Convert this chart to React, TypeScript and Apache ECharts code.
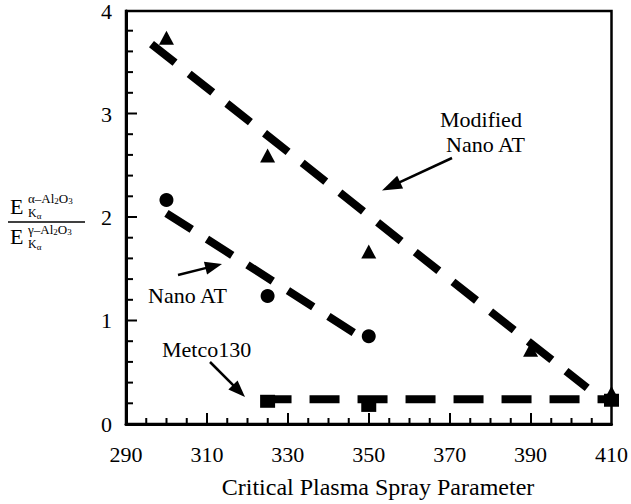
import React, { useEffect, useRef } from "react";
import * as echarts from "echarts";

// ---- data ----
const xLabelValues = [290, 310, 330, 350, 370, 390, 410];
const xMajorTicks = [310, 330, 350, 370, 390];
const xMinorTicks = [295, 300, 305, 315, 320, 325, 335, 340, 345, 355, 360, 365, 375, 380, 385, 395, 400, 405];
const yMajorTicks = [1, 2, 3];
const yMinorTicks = [0.2, 0.4, 0.6, 0.8, 1.2, 1.4, 1.6, 1.8, 2.2, 2.4, 2.6, 2.8, 3.2, 3.4, 3.6, 3.8];

const modifiedNanoAT: [number, number][] = [
  [300, 3.74],
  [325, 2.6],
  [350, 1.67],
  [390, 0.72],
  [410, 0.3],
];
const nanoAT: [number, number][] = [
  [300, 2.17],
  [325, 1.24],
  [350, 0.85],
];
const metco130: [number, number][] = [
  [325, 0.22],
  [350, 0.18],
  [410, 0.23],
];
const modifiedFit: [number, number][] = [
  [296.3, 3.68],
  [404, 0.35],
];
const nanoFit: [number, number][] = [
  [300, 2.04],
  [346.5, 0.88],
];
const metcoFit: [number, number][] = [
  [323.5, 0.24],
  [410, 0.24],
];

const X_MIN = 290;
const X_MAX = 410;
const Y_MIN = 0;
const Y_MAX = 4;

const GRID_LEFT = 126;
const GRID_TOP = 10;
const GRID_W = 486;
const GRID_H = 414;

const FONT = "Liberation Serif";

function measure(text: string, size: number): number {
  const c = document.createElement("canvas").getContext("2d");
  if (!c) return text.length * size * 0.5;
  c.font = `${size}px "Liberation Serif"`;
  return c.measureText(text).width;
}

function runText(x: number, baseline: number, pieces: [string, number, number][]) {
  const els: any[] = [];
  let cx = x;
  for (const [t, fs, dy] of pieces) {
    els.push({
      type: "text",
      x: cx,
      y: baseline + dy - 0.305 * fs,
      style: {
        text: t,
        fontSize: fs,
        fontFamily: FONT,
        fill: "#000",
        textAlign: "left",
        textVerticalAlign: "middle",
      },
    });
    cx += measure(t, fs);
  }
  return els;
}

function arrow(tail: number[], tip: number[], headLen: number, headHalf: number, lw: number) {
  const dx = tip[0] - tail[0];
  const dy = tip[1] - tail[1];
  const L = Math.hypot(dx, dy);
  const ux = dx / L;
  const uy = dy / L;
  const bx = tip[0] - ux * headLen;
  const by = tip[1] - uy * headLen;
  const nx = -uy * headHalf;
  const ny = ux * headHalf;
  return [
    {
      type: "line",
      shape: { x1: tail[0], y1: tail[1], x2: bx + ux * 2, y2: by + uy * 2 },
      style: { stroke: "#000", lineWidth: lw },
    },
    {
      type: "polygon",
      shape: {
        points: [
          [tip[0], tip[1]],
          [bx + nx, by + ny],
          [bx - nx, by - ny],
        ],
      },
      style: { fill: "#000" },
    },
  ];
}

function label(text: string, x: number, y: number, size: number, align = "left") {
  return {
    type: "text",
    x,
    y,
    style: {
      text,
      fontSize: size,
      fontFamily: FONT,
      fill: "#000",
      textAlign: align,
      textVerticalAlign: "middle",
    },
  };
}

// same linear mapping as the value axes (min..max over the grid box)
const xPix = (v: number) => GRID_LEFT + ((v - X_MIN) / (X_MAX - X_MIN)) * GRID_W;
const yPix = (v: number) => GRID_TOP + GRID_H - ((v - Y_MIN) / (Y_MAX - Y_MIN)) * GRID_H;

function tickLine(x1: number, y1: number, x2: number, y2: number) {
  return {
    type: "line",
    shape: { x1, y1, x2, y2 },
    style: { stroke: "#000", lineWidth: 2 },
  };
}

export default function App() {
  const ref = useRef<HTMLDivElement>(null);

  useEffect(() => {
    document.body.style.margin = "0";
    if (!ref.current) return;
    const chart = echarts.init(ref.current, null, { renderer: "svg" });

    const dash = (data: [number, number][]) => ({
      type: "line",
      data,
      showSymbol: false,
      symbol: "none",
      silent: true,
      clip: false,
      lineStyle: { color: "#000", width: 8, type: [30, 18], cap: "butt" },
      z: 2,
    });

    const yLabel: any[] = [
      ...runText(10, 213, [["E", 22, 0]]),
      ...runText(28, 202, [
        ["α–Al", 13, 0],
        ["2", 9, 2],
        ["O", 13, 0],
        ["3", 9, 2],
      ]),
      ...runText(28, 217, [
        ["K", 12, 0],
        ["α", 9, 2],
      ]),
      {
        type: "line",
        shape: { x1: 8, y1: 222, x2: 85, y2: 222 },
        style: { stroke: "#000", lineWidth: 1.5 },
      },
      ...runText(10, 243, [["E", 22, 0]]),
      ...runText(28, 233, [
        ["γ–Al", 13, 0],
        ["2", 9, 2],
        ["O", 13, 0],
        ["3", 9, 2],
      ]),
      ...runText(28, 248, [
        ["K", 12, 0],
        ["α", 9, 2],
      ]),
    ];

    const ticks: any[] = [
      ...xMajorTicks.map((v) => tickLine(xPix(v), yPix(Y_MIN), xPix(v), yPix(Y_MIN) - 11)),
      ...xMinorTicks.map((v) => tickLine(xPix(v), yPix(Y_MIN), xPix(v), yPix(Y_MIN) - 6)),
      ...yMajorTicks.map((v) => tickLine(xPix(X_MIN), yPix(v), xPix(X_MIN) + 11, yPix(v))),
      ...yMinorTicks.map((v) => tickLine(xPix(X_MIN), yPix(v), xPix(X_MIN) + 7, yPix(v))),
    ];

    const option: any = {
      animation: false,
      backgroundColor: "#fff",
      grid: {
        left: GRID_LEFT,
        top: GRID_TOP,
        width: GRID_W,
        height: GRID_H,
        show: true,
        borderColor: "#000",
        borderWidth: 2.5,
        backgroundColor: "transparent",
      },
      xAxis: {
        type: "value",
        min: X_MIN,
        max: X_MAX,
        interval: 5,
        position: "bottom",
        axisLine: { show: true, onZero: false, lineStyle: { color: "#000", width: 3 } },
        axisTick: { show: false },
        axisLabel: {
          show: true,
          customValues: xLabelValues,
          margin: 19,
          fontSize: 22,
          fontFamily: FONT,
          color: "#000",
        },
        splitLine: { show: false },
      },
      yAxis: {
        type: "value",
        min: Y_MIN,
        max: Y_MAX,
        interval: 1,
        axisLine: { show: true, onZero: false, lineStyle: { color: "#000", width: 3 } },
        axisTick: { show: false },
        axisLabel: { margin: 14, fontSize: 22, fontFamily: FONT, color: "#000" },
        splitLine: { show: false },
      },
      series: [
        dash(modifiedFit),
        dash(nanoFit),
        dash(metcoFit),
        {
          name: "Modified Nano AT",
          type: "scatter",
          data: modifiedNanoAT,
          symbol: "triangle",
          symbolSize: [15, 14],
          itemStyle: { color: "#000", opacity: 1 },
          clip: false,
          z: 3,
        },
        {
          name: "Nano AT",
          type: "scatter",
          data: nanoAT,
          symbol: "circle",
          symbolSize: 14,
          itemStyle: { color: "#000", opacity: 1 },
          clip: false,
          z: 3,
        },
        {
          name: "Metco130",
          type: "scatter",
          data: metco130,
          symbol: "rect",
          symbolSize: [15, 13],
          itemStyle: { color: "#000", opacity: 1 },
          clip: false,
          z: 3,
        },
      ],
      graphic: {
        elements: [
          ...ticks,
          ...yLabel,
          label("Modified", 440, 119, 22),
          label("Nano AT", 446, 144, 22),
          ...arrow([452, 158], [382, 190.5], 20, 7, 2.5),
          label("Nano AT", 148, 295, 22),
          ...arrow([178, 275], [222, 264], 17, 6.5, 2.5),
          label("Metco130", 162, 349, 22),
          ...arrow([210, 362], [245, 397], 17, 6.5, 2.5),
          label("Critical Plasma Spray Parameter", 378, 487, 24, "center"),
        ],
      },
    };

    chart.setOption(option);
    return () => chart.dispose();
  }, []);

  return <div ref={ref} style={{ width: 631, height: 504 }} />;
}
